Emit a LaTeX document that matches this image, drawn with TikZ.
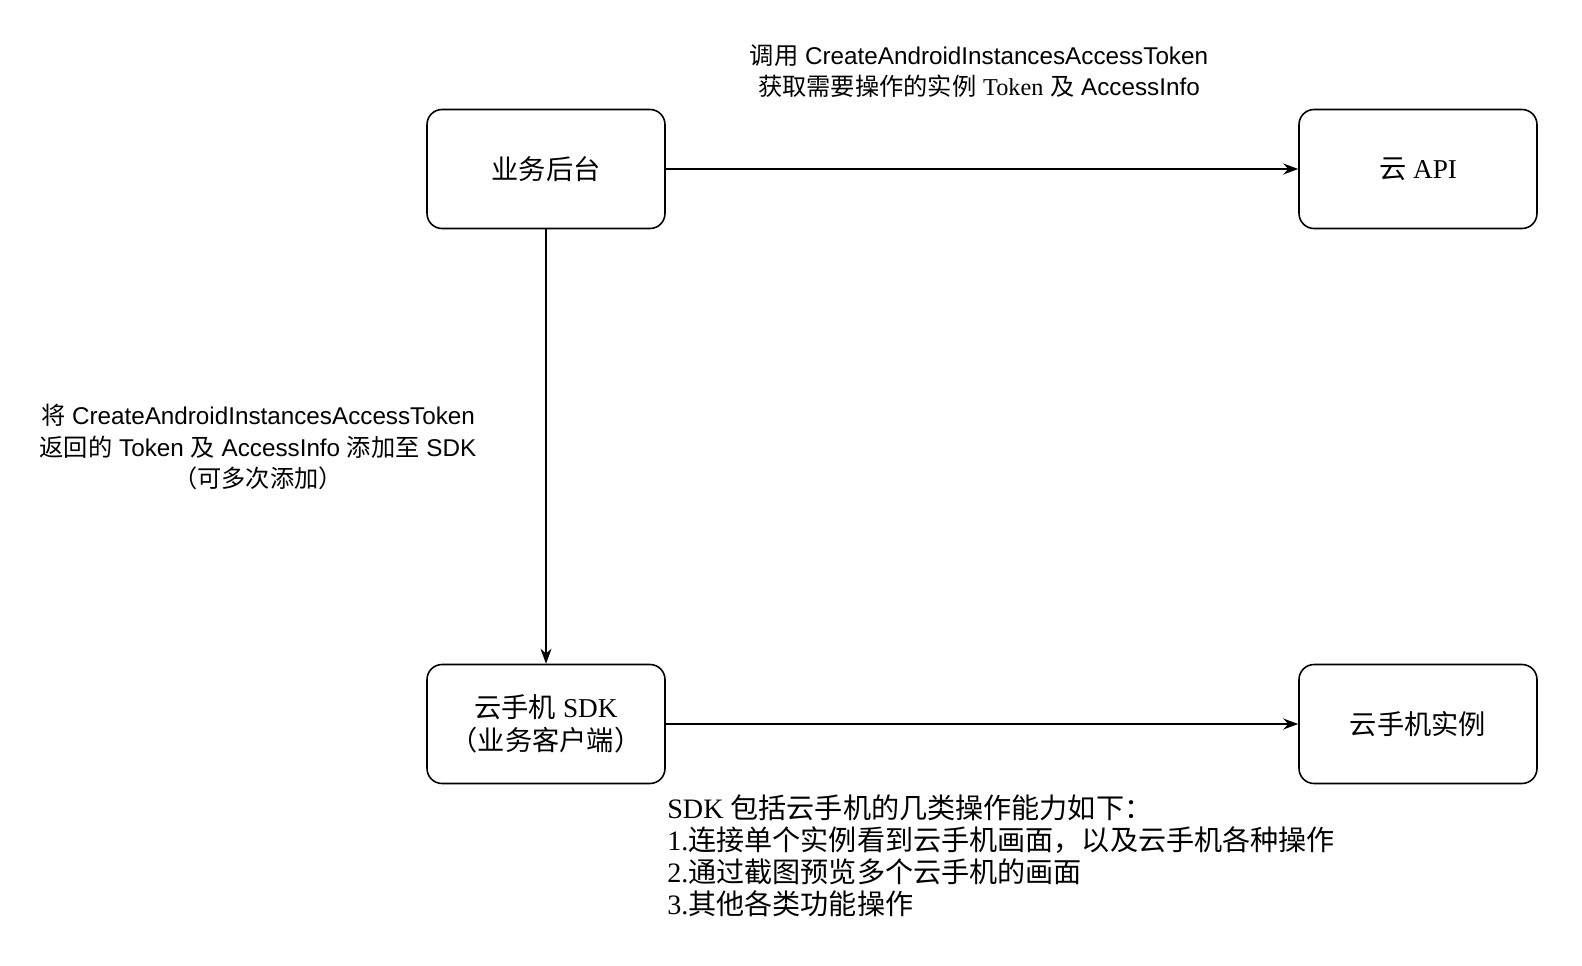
\documentclass[tikz,border=0pt]{standalone}
\usepackage{fontspec}
\setmainfont{Liberation Serif}
\setsansfont{Liberation Sans}
\newfontfamily\cjk{Noto Sans CJK SC}
\usetikzlibrary{positioning,arrows.meta}
\tikzset{
  nodebox/.style={draw, rounded corners=0.3cm, line width=0.9pt, minimum width=4.76cm, minimum height=2.38cm, align=center, font=\fontsize{15.5}{19}\selectfont},
  conn/.style={-{Stealth[length=0.3cm,width=0.22cm]}, line width=0.9pt},
  labeltext/.style={align=center, font=\fontsize{13.8}{18}\selectfont\sffamily}
}
\begin{document}
\begin{tikzpicture}[x=0.02cm,y=-0.02cm]
    \useasboundingbox (0,0) rectangle (1582,966);
    \node[nodebox] (backend) at (546,169) {{\cjk 业务后台}};
    \node[nodebox] (api) at (1418,169) {{\cjk 云} API};
    \node[nodebox] (sdk) at (546,724) {{\cjk 云手机} SDK\\{\cjk （业务客户端）}};
    \node[nodebox] (instance) at (1418,724) {{\cjk 云手机实例}};
    \draw[conn] (backend) -- (api);
    \draw[conn] (backend) -- (sdk);
    \draw[conn] (sdk) -- (instance);
    % labels
    \node[labeltext] (toplabel) at (979,71) {{\cjk 调用} CreateAndroidInstancesAccessToken\\{\cjk 获取需要操作的实例} {\rmfamily Token} {\cjk 及} AccessInfo};
    \node[labeltext] (leftlabel) at (258,447) {{\cjk 将} CreateAndroidInstancesAccessToken\\{\cjk 返回的} Token {\cjk 及} AccessInfo {\cjk 添加至} SDK\\{\cjk （可多次添加）}};
    \node[anchor=north west, align=left, font=\fontsize{16}{18.2}\selectfont, inner sep=0pt] (sdknote) at (667,794) {SDK {\cjk 包括云手机的几类操作能力如下：}\\1.{\cjk 连接单个实例看到云手机画面，以及云手机各种操作}\\2.{\cjk 通过截图预览多个云手机的画面}\\3.{\cjk 其他各类功能操作}};
\end{tikzpicture}
\end{document}
